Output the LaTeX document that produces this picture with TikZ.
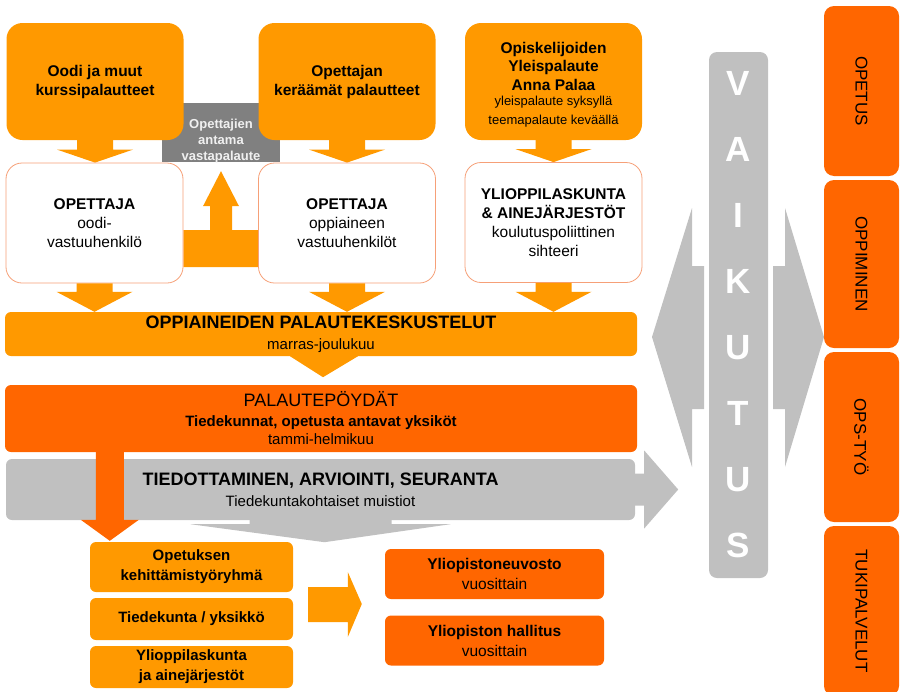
\documentclass[tikz,border=0pt]{standalone}
\usepackage{fontspec}
\setmainfont{Liberation Sans}
\usetikzlibrary{calc}

\definecolor{lightorange}{RGB}{255,153,0}
\definecolor{darkorange}{RGB}{255,102,0}
\definecolor{lightgrey}{RGB}{192,192,192}
\definecolor{darkgrey}{RGB}{128,128,128}
\definecolor{boxline}{RGB}{246,160,120}

\newcommand{\fs}[2]{\fontsize{#1}{#2}\selectfont}

\newcommand{\blockdown}[4]{%
\fill[#3] let \p1=(#1.south), \p2=(#2.north) in
  (\x1-18pt,\y1) -- (\x1-18pt,\y2+#4) -- (\x1-38pt,\y2+#4) -- (\x1,\y2)
  -- (\x1+38pt,\y2+#4) -- (\x1+18pt,\y2+#4) -- (\x1+18pt,\y1) -- cycle;}

\begin{document}
\begin{tikzpicture}[x=1pt,y=-1pt,
  topbox/.style={fill=lightorange, rounded corners=16pt, minimum width=177pt, minimum height=117pt, align=center, font=\fs{15.5}{19}\bfseries},
  midbox/.style={fill=white, draw=boxline, line width=0.8pt, rounded corners=16pt, minimum width=177pt, minimum height=120pt, align=center, font=\fs{15.5}{19}},
  barbox/.style={rounded corners=6pt, minimum width=632pt, align=center, font=\fs{15}{21}},
  smallbox/.style={fill=lightorange, rounded corners=6pt, minimum width=203pt, align=center, font=\fs{15}{20}\bfseries},
  unibox/.style={fill=darkorange, rounded corners=6pt, minimum width=219pt, minimum height=50pt, align=center, font=\fs{15.5}{20}},
  sidebox/.style={fill=darkorange, rounded corners=10pt, minimum width=170pt, minimum height=75pt, rotate=-90, font=\fs{17}{20}}]

\useasboundingbox (0,0) rectangle (901,691);
\clip (0,0) rectangle (901,691);

\node[fill=darkgrey, minimum width=118pt, minimum height=59pt] (vasta) at (221,132.5) {};

\node[topbox] (t1) at (95,81.5) {Oodi ja muut\\kurssipalautteet};
\node[topbox] (t2) at (347,81.5) {Opettajan\\keräämät palautteet};
\node[topbox, font=\fs{15.5}{18.5}\bfseries] (t3) at (553.5,81.5) {\rule{0pt}{17pt}Opiskelijoiden\\Yleispalaute\\Anna Palaa\\[-3pt]{\mdseries\fs{13}{16}yleispalaute syksyllä}\\{\mdseries\fs{13}{16}teemapalaute keväällä}};

\path node[midbox, draw=none, fill=none] (m1) at (94.5,223) {}
      node[midbox, draw=none, fill=none] (m2) at (347,223) {}
      node[midbox, draw=none, fill=none] (m3) at (553.5,222.5) {};

\blockdown{t1}{m1}{lightorange}{13pt}
\blockdown{t2}{m2}{lightorange}{13pt}
\blockdown{t3}{m3}{lightorange}{13pt}

\fill[lightorange] let \p1=(m1.east), \p2=(m2.west), \p3=(vasta.south) in
  (\x1,\y1-7pt) -- (\x3-11pt,\y1-7pt) -- (\x3-11pt,\y3-44pt) -- (\x3-18pt,\y3-44pt) -- (\x3,\y3-9pt)
  -- (\x3+18pt,\y3-44pt) -- (\x3+11pt,\y3-44pt) -- (\x3+11pt,\y1-7pt) -- (\x2,\y1-7pt)
  -- (\x2,\y1-44pt) -- (\x1,\y1-44pt) -- cycle;

\node[midbox] (m1) at (94.5,223) {{\bfseries OPETTAJA}\\oodi-\\vastuuhenkilö};
\node[midbox] (m2) at (347,223) {{\bfseries OPETTAJA}\\oppiaineen\\vastuuhenkilöt};
\node[midbox] (m3) at (553.5,222.5) {{\bfseries YLIOPPILASKUNTA}\\{\bfseries \& AINEJÄRJESTÖT}\\koulutuspoliittinen\\sihteeri};

\node[align=center, text=white!94!black, font=\fs{13}{16}\bfseries] (vastat) at (221,141.5) {Opettajien\\antama\\vastapalaute};

\node[barbox, fill=lightorange, minimum height=44pt] (b1) at (321,334) {{\fs{18}{21}\bfseries OPPIAINEIDEN PALAUTEKESKUSTELUT}\\marras-joulukuu};

\blockdown{m1}{b1}{lightorange}{20pt}
\blockdown{m2}{b1}{lightorange}{20pt}
\blockdown{m3}{b1}{lightorange}{20pt}

\fill[lightorange] let \p1=(b1.south) in (\x1-31pt,\y1) -- (\x1+37pt,\y1) -- (\x1+2pt,\y1-21pt) -- cycle;

\node[barbox, fill=darkorange, minimum height=67pt] (b2) at (321,418.5) {{\fs{18}{21}PALAUTEPÖYDÄT}\\[-1pt]{\bfseries Tiedekunnat, opetusta antavat yksiköt}\\[-3pt]tammi-helmikuu};

\node[barbox, minimum width=629pt, minimum height=61pt] (b3) at (320.5,489.5) {};

\fill[lightgrey] let \p1=(b3.south) in
  (\x1-71pt,\y1+5pt) -- (\x1-71pt,\y1-4pt) -- (\x1-130pt,\y1-4pt) -- (\x1+4pt,\y1-22pt)
  -- (\x1+130pt,\y1-4pt) -- (\x1+71pt,\y1-4pt) -- (\x1+71pt,\y1+5pt) -- cycle;

\fill[lightgrey] let \p1=(b3.east) in
  (\x1-5pt,\y1+16pt) -- (\x1+9pt,\y1+16pt) -- (\x1+9pt,\y1+39pt) -- (\x1+43pt,\y1)
  -- (\x1+9pt,\y1-39pt) -- (\x1+9pt,\y1-16pt) -- (\x1-5pt,\y1-16pt) -- cycle;

\node[barbox, fill=lightgrey, minimum width=629pt, minimum height=61pt] (b3) at (320.5,489.5) {{\fs{18}{21}\bfseries TIEDOTTAMINEN, ARVIOINTI, SEURANTA}\\Tiedekuntakohtaiset muistiot};

\node[smallbox, minimum height=50pt] (l1) at (191.5,567) {Opetuksen\\kehittämistyöryhmä};
\node[smallbox, minimum height=42pt] (l2) at (191.5,619) {Tiedekunta / yksikkö};
\node[smallbox, minimum height=42pt] (l3) at (191.5,667) {Ylioppilaskunta\\ja ainejärjestöt};

\fill[darkorange] let \p1=(b2.south west), \p2=(l1.north) in
  (\x1+91pt,\y1+2pt) -- (\x1+91pt,\y2+22pt) -- (\x1+76pt,\y2+22pt) -- (\x1+105pt,\y2+1pt)
  -- (\x1+134pt,\y2+22pt) -- (\x1+119pt,\y2+22pt) -- (\x1+119pt,\y1+2pt) -- cycle;

\node[unibox] (y1) at (494.5,574) {{\bfseries Yliopistoneuvosto}\\vuosittain};
\node[unibox] (y2) at (494.5,640.5) {{\bfseries Yliopiston hallitus}\\vuosittain};

\fill[lightorange] let \p1=(l2.east), \p2=(y1.west) in
  (\x1+15pt,\y1+32pt) -- (\x2-37pt,\y1+32pt) -- (\x2-37pt,\y1+47pt) -- (\x2-23pt,\y1+15pt)
  -- (\x2-37pt,\y1-18pt) -- (\x2-37pt,\y1-3pt) -- (\x1+15pt,\y1-3pt) -- cycle;

\fill[lightgrey] (652,337) -- (692,208) -- (692,266) -- (704,266) -- (704,409) -- (692,409) -- (692,467) -- cycle;
\fill[lightgrey] (824,337) -- (785,208) -- (785,266) -- (773,266) -- (773,409) -- (785,409) -- (785,467) -- cycle;

\node[fill=lightgrey, rounded corners=8pt, minimum width=59pt, minimum height=526pt, align=center, text=white, font=\fs{35}{66}\bfseries] (v) at (738.5,315) {V\\A\\I\\K\\U\\T\\U\\S};

\node[sidebox] (r1) at (861.5,91) {OPETUS};
\node[sidebox, minimum width=168pt] (r2) at (861.5,264) {OPPIMINEN};
\node[sidebox] (r3) at (861.5,437) {OPS-TYÖ};
\node[sidebox] (r4) at (861.5,611) {TUKIPALVELUT};

\end{tikzpicture}
\end{document}
